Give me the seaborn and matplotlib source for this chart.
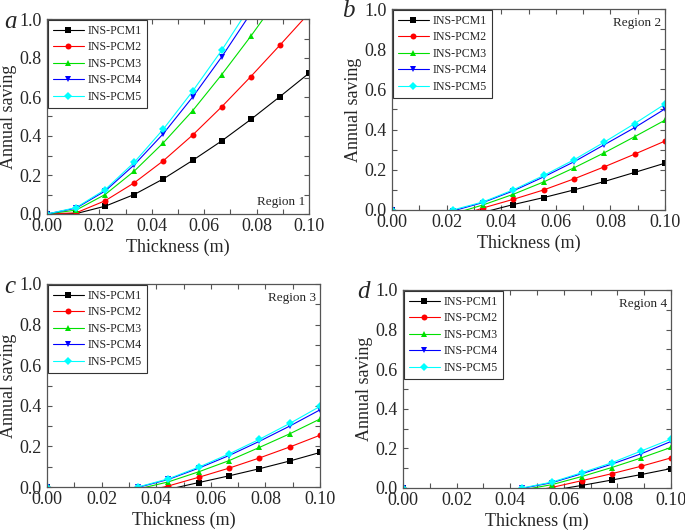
import numpy as np
import pandas as pd
import seaborn as sns
import matplotlib.pyplot as plt
from matplotlib.ticker import MultipleLocator

# thickness points (m)
thickness = [0.0, 0.0111, 0.0222, 0.0333, 0.0444, 0.0556, 0.0667, 0.0778, 0.0889, 0.1]
series = ["INS-PCM1", "INS-PCM2", "INS-PCM3", "INS-PCM4", "INS-PCM5"]

# annual saving per region (negative values fall below the axis, as in the original)
region1 = {
    "INS-PCM1": [0, 0.002, 0.040, 0.100, 0.180, 0.275, 0.375, 0.485, 0.602, 0.722],
    "INS-PCM2": [0, 0.006, 0.068, 0.160, 0.273, 0.405, 0.550, 0.705, 0.866, 1.03],
    "INS-PCM3": [0, 0.020, 0.100, 0.220, 0.365, 0.530, 0.715, 0.912, 1.12, 1.33],
    "INS-PCM4": [0, 0.030, 0.118, 0.252, 0.412, 0.600, 0.806, 1.03, 1.26, 1.50],
    "INS-PCM5": [0, 0.033, 0.125, 0.265, 0.435, 0.630, 0.840, 1.07, 1.31, 1.56],
}
region2 = {
    "INS-PCM1": [0, -0.4, -0.06, -0.012, 0.027, 0.062, 0.100, 0.142, 0.187, 0.233],
    "INS-PCM2": [0, -0.4, -0.04, 0.010, 0.053, 0.100, 0.155, 0.215, 0.278, 0.343],
    "INS-PCM3": [0, -0.4, -0.02, 0.025, 0.078, 0.140, 0.210, 0.285, 0.365, 0.447],
    "INS-PCM4": [0, -0.4, -0.005, 0.037, 0.095, 0.165, 0.240, 0.325, 0.410, 0.503],
    "INS-PCM5": [0, -0.4, 0.0, 0.040, 0.100, 0.172, 0.250, 0.338, 0.430, 0.527],
}
region3 = {
    "INS-PCM1": [0, -0.6, -0.5, -0.06, -0.012, 0.022, 0.055, 0.090, 0.128, 0.170],
    "INS-PCM2": [0, -0.6, -0.5, -0.03, 0.005, 0.048, 0.093, 0.143, 0.197, 0.255],
    "INS-PCM3": [0, -0.6, -0.5, -0.01, 0.025, 0.075, 0.130, 0.195, 0.262, 0.335],
    "INS-PCM4": [0, -0.6, -0.5, -0.002, 0.037, 0.093, 0.155, 0.225, 0.300, 0.380],
    "INS-PCM5": [0, -0.6, -0.5, 0.0, 0.040, 0.098, 0.163, 0.235, 0.313, 0.397],
}
region4 = {
    "INS-PCM1": [0, -0.8, -0.7, -0.6, -0.04, -0.012, 0.013, 0.040, 0.068, 0.098],
    "INS-PCM2": [0, -0.8, -0.7, -0.6, -0.025, 0.003, 0.037, 0.072, 0.110, 0.152],
    "INS-PCM3": [0, -0.8, -0.7, -0.6, -0.01, 0.017, 0.058, 0.103, 0.152, 0.205],
    "INS-PCM4": [0, -0.8, -0.7, -0.6, -0.002, 0.027, 0.072, 0.120, 0.173, 0.235],
    "INS-PCM5": [0, -0.8, -0.7, -0.6, 0.0, 0.030, 0.077, 0.127, 0.187, 0.247],
}

colors = {"INS-PCM1": "black", "INS-PCM2": "#ff0000", "INS-PCM3": "#00e000",
          "INS-PCM4": "#0000ff", "INS-PCM5": "#00ffff"}
markers = {"INS-PCM1": "s", "INS-PCM2": "o", "INS-PCM3": "^",
           "INS-PCM4": "v", "INS-PCM5": "D"}

sns.set_theme(style="ticks")
plt.rcParams["font.family"] = ["Liberation Serif", "DejaVu Serif"]

W, H = 685, 531
fig = plt.figure(figsize=(W / 100, H / 100), dpi=100)

# pixel boxes: left, right, top, bottom ; letter offset (px left of axes), letter y (px)
panels = [
    (region1, (47, 309, 19, 214), "a", "Region 1", "lower right", 30, 22),
    (region2, (392, 665, 9, 210), "b", "Region 2", "upper right", 37, 11),
    (region3, (47, 320, 284, 487), "c", "Region 3", "upper right", 32, 287),
    (region4, (403, 671, 290, 488), "d", "Region 4", "upper right", 33, 292),
]

for data, (l, r, t, b), letter, region, rpos, loff, ly in panels:
    ax = fig.add_axes([l / W, 1 - b / H, (r - l) / W, (b - t) / H])
    rows = []
    for s in series:
        for x, y in zip(thickness, data[s]):
            rows.append({"Thickness": x, "Saving": y, "Series": s})
    df = pd.DataFrame(rows)
    sns.lineplot(data=df, x="Thickness", y="Saving", hue="Series", style="Series",
                 palette=colors, markers=markers, dashes=False, linewidth=0.8,
                 markersize=4.3, markeredgewidth=0, ax=ax)
    ax.set_xlim(0, 0.1)
    ax.set_ylim(0, 1.0)
    ax.xaxis.set_major_locator(MultipleLocator(0.02))
    ax.xaxis.set_minor_locator(MultipleLocator(0.01))
    ax.yaxis.set_major_locator(MultipleLocator(0.2))
    ax.yaxis.set_minor_locator(MultipleLocator(0.1))
    ax.xaxis.set_major_formatter(plt.FormatStrFormatter("%.2f"))
    ax.yaxis.set_major_formatter(plt.FormatStrFormatter("%.1f"))
    ax.tick_params(which="both", direction="in", top=True, right=True,
                   length=3.5, width=0.8, color="#555555", labelsize=13, pad=3)
    ax.tick_params(axis="y", pad=4)
    for sp in ax.spines.values():
        sp.set_color("#555555")
        sp.set_linewidth(0.9)
    ax.set_xlabel("Thickness (m)", fontsize=13, labelpad=2.5)
    ax.set_ylabel("Annual saving", fontsize=13, labelpad=1.5)
    leg = ax.legend(loc="upper left", fontsize=8.6, frameon=True, fancybox=False,
                    edgecolor="#333333", framealpha=1, handlelength=2.6,
                    borderaxespad=0.08, labelspacing=0.38, handletextpad=0.35,
                    borderpad=0.4)
    leg.get_frame().set_linewidth(0.8)
    if rpos == "lower right":
        fig.text((r - 4) / W, 1 - (b - 6) / H, region, ha="right", va="bottom",
                 fontsize=9.5)
    else:
        fig.text((r - 4) / W, 1 - (t + 8) / H, region, ha="right", va="top",
                 fontsize=9.5)
    fig.text((l - loff) / W, 1 - ly / H, letter, ha="right", va="center",
             fontsize=18, style="italic")

fig.savefig("out.png", dpi=100)
